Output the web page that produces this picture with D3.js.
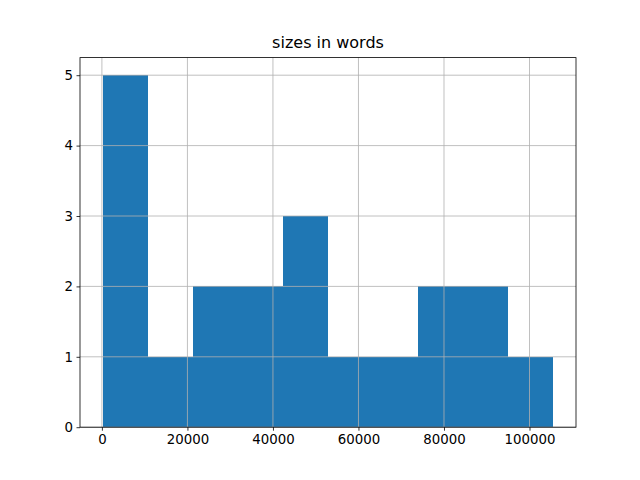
<!DOCTYPE html>
<html><head><meta charset="utf-8">
<script src="https://cdn.jsdelivr.net/npm/d3@7"></script>
<style>body{margin:0;background:#fff}svg{display:block}text{font-family:"DejaVu Sans",sans-serif}</style>
</head><body>
<script>
const title = "sizes in words";
const dataMin = 150;
const dataMax = 105600;
const counts = [5, 1, 2, 2, 3, 1, 1, 2, 2, 1];
const xTicks = [0, 20000, 40000, 60000, 80000, 100000];
const yTicks = [0, 1, 2, 3, 4, 5];

const W = 640, H = 480;
const L = 80, R = 576, T = 57.6, B = 427.2;
const nb = counts.length;
const bw = (dataMax - dataMin) / nb;
const edges = d3.range(nb + 1).map(i => dataMin + i * bw);
const bins = counts.map((c, i) => ({x0: edges[i], x1: edges[i + 1], c}));
const span = dataMax - dataMin;
const x = d3.scaleLinear().domain([dataMin - 0.05 * span, dataMax + 0.05 * span]).range([L, R]);
const ymax = d3.max(counts);
const y = d3.scaleLinear().domain([0, ymax * 1.05]).range([B, T]);

const svg = d3.select("body").append("svg").attr("width", W).attr("height", H);

svg.append("g").selectAll("rect").data(bins).join("rect")
  .attr("x", d => x(d.x0)).attr("width", d => x(d.x1) - x(d.x0))
  .attr("y", d => y(d.c)).attr("height", d => y(0) - y(d.c))
  .attr("fill", "#1f77b4").attr("shape-rendering", "crispEdges");

const grid = svg.append("g").attr("stroke", "#b0b0b0").attr("stroke-width", 0.8);
grid.selectAll(".gx").data(xTicks).join("line")
  .attr("x1", d => x(d)).attr("x2", d => x(d)).attr("y1", T).attr("y2", B);
grid.selectAll(".gy").data(yTicks).join("line")
  .attr("y1", d => y(d)).attr("y2", d => y(d)).attr("x1", L).attr("x2", R);

const xAxis = svg.append("g").attr("transform", `translate(0,${B})`)
  .call(d3.axisBottom(x).tickValues(xTicks).tickFormat(d3.format("d")).tickSize(3.5).tickPadding(3.5));
const yAxis = svg.append("g").attr("transform", `translate(${L},0)`)
  .call(d3.axisLeft(y).tickValues(yTicks).tickFormat(d3.format("d")).tickSize(3.5).tickPadding(3.5));
[xAxis, yAxis].forEach(a => {
  a.select(".domain").remove();
  a.selectAll(".tick line").attr("stroke", "#000").attr("stroke-width", 0.8);
  a.selectAll(".tick text").attr("fill", "#000").style("font-size", "13.33px").style("font-family", "DejaVu Sans, sans-serif");
});

svg.append("rect").attr("x", L).attr("y", T).attr("width", R - L).attr("height", B - T)
  .attr("fill", "none").attr("stroke", "#000").attr("stroke-width", 0.8);

svg.append("text").attr("x", (L + R) / 2).attr("y", T - 9.5).attr("text-anchor", "middle")
  .style("font-size", "16px").attr("fill", "#000").text(title);
</script>
</body></html>
